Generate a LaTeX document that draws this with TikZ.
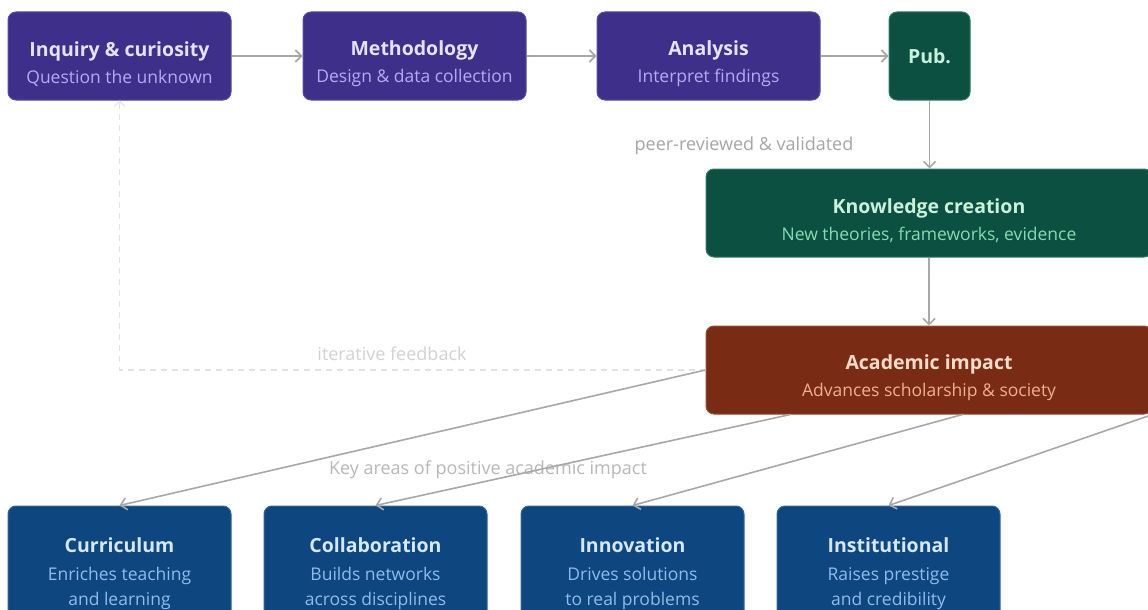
\documentclass[tikz,border=0pt]{standalone}
\usepackage{fontspec}
\setmainfont{Open Sans}
\usetikzlibrary{arrows.meta}

\definecolor{rsPurple}{HTML}{3E2F8A}
\definecolor{rsPurpleEdge}{HTML}{5A4BA6}
\definecolor{rsPurpleHead}{HTML}{E6E2FF}
\definecolor{rsPurpleSub}{HTML}{B6ABF2}
\definecolor{rsGreen}{HTML}{0B5040}
\definecolor{rsGreenEdge}{HTML}{2E7A62}
\definecolor{rsGreenHead}{HTML}{C9F1DC}
\definecolor{rsGreenSub}{HTML}{86DCB2}
\definecolor{rsBrown}{HTML}{792B14}
\definecolor{rsBrownEdge}{HTML}{9A4A30}
\definecolor{rsBrownHead}{HTML}{FBDCCB}
\definecolor{rsBrownSub}{HTML}{F0AE92}
\definecolor{rsBlue}{HTML}{0E4680}
\definecolor{rsBlueEdge}{HTML}{3566A0}
\definecolor{rsBlueHead}{HTML}{D4E8FF}
\definecolor{rsBlueSub}{HTML}{8EBDEB}
\definecolor{arrGrey}{HTML}{A8A8A8}
\definecolor{noteGrey}{HTML}{A6A6A6}
\definecolor{fbGrey}{HTML}{E2E2E2}

\newcommand{\headfont}{\fontsize{19.5}{25}\selectfont\bfseries}
\newcommand{\subfont}{\fontsize{17.5}{25}\selectfont}

\tikzset{
	stage/.style={rectangle, rounded corners=8pt, minimum width=223pt, minimum height=88pt,
		align=center, inner sep=0pt, line width=1pt, font=\fontsize{17.5}{25}\selectfont},
	purple/.style={stage, fill=rsPurple, draw=rsPurpleEdge},
	green/.style={stage, fill=rsGreen, draw=rsGreenEdge},
	brown/.style={stage, fill=rsBrown, draw=rsBrownEdge},
	blue/.style={stage, fill=rsBlue, draw=rsBlueEdge, minimum height=120pt},
	arr/.style={draw=arrGrey, line width=1.6pt, -{Straight Barb[length=6pt,width=12pt]}},
	fb/.style={draw=fbGrey, line width=1.2pt, dash pattern=on 6pt off 5pt,
		-{Straight Barb[length=5pt,width=10pt]}},
	note/.style={text=noteGrey, font=\fontsize{18}{22}\selectfont}
}

\begin{document}
\begin{tikzpicture}[x=1pt,y=-1pt]
	\useasboundingbox[fill=white] (0,0) rectangle (1148,610);

	% research stages
	\node[purple] (inq) at (119.5,56) {\rule{0pt}{30pt}{\headfont\color{rsPurpleHead}Inquiry \& curiosity}\\[2pt]{\subfont\color{rsPurpleSub}Question the unknown}};
	\node[purple] (meth) at (414.5,56) {\rule{0pt}{30pt}{\headfont\color{rsPurpleHead}Methodology}\\[2pt]{\subfont\color{rsPurpleSub}Design \& data collection}};
	\node[purple] (ana) at (708.5,56) {\rule{0pt}{30pt}{\headfont\color{rsPurpleHead}Analysis}\\[2pt]{\subfont\color{rsPurpleSub}Interpret findings}};
	\node[green, minimum width=81pt] (pub) at (929.5,56) {{\headfont\color{rsGreenHead}Pub.}};

	\node[green, minimum width=446pt] (know) at (929,213) {\rule{0pt}{30pt}{\headfont\color{rsGreenHead}Knowledge creation}\\[2pt]{\subfont\color{rsGreenSub}New theories, frameworks, evidence}};
	\node[brown, minimum width=446pt] (imp) at (929,370) {\rule{0pt}{30pt}{\headfont\color{rsBrownHead}Academic impact}\\[2pt]{\subfont\color{rsBrownSub}Advances scholarship \& society}};

	% impact areas
	\node[blue] (cur) at (119.5,566) {\rule{0pt}{31pt}{\headfont\color{rsBlueHead}Curriculum}\\[3pt]{\subfont\color{rsBlueSub}Enriches teaching}\\{\subfont\color{rsBlueSub}and learning}};
	\node[blue] (col) at (375.5,566) {\rule{0pt}{31pt}{\headfont\color{rsBlueHead}Collaboration}\\[3pt]{\subfont\color{rsBlueSub}Builds networks}\\{\subfont\color{rsBlueSub}across disciplines}};
	\node[blue] (inn) at (632.5,566) {\rule{0pt}{31pt}{\headfont\color{rsBlueHead}Innovation}\\[3pt]{\subfont\color{rsBlueSub}Drives solutions}\\{\subfont\color{rsBlueSub}to real problems}};
	\node[blue] (ins) at (888.5,566) {\rule{0pt}{31pt}{\headfont\color{rsBlueHead}Institutional}\\[3pt]{\subfont\color{rsBlueSub}Raises prestige}\\{\subfont\color{rsBlueSub}and credibility}};

	% labels
	\node[note] (peer) at (744,146) {peer-reviewed \& validated};
	\node[note, text=fbGrey!80!black!60] (iter) at (392,354) {iterative feedback};
	\node[note, text=noteGrey!80] (keys) at (488,470) {Key areas of positive academic impact};

	% connectors
	\draw[arr] (inq) -- (meth);
	\draw[arr] (meth) -- (ana);
	\draw[arr] (ana) -- (pub);
	\draw[arr] (pub.south) -- (pub.south |- know.north);
	\draw[arr] (know) -- (imp);
	\draw[fb] (imp.west) -| (inq.south);

	\draw[arr] (imp.west) -- (cur.north);
	\draw[arr] ([xshift=85pt]imp.south west) -- (col.north);
	\draw[arr] ([xshift=257pt]imp.south west) -- (inn.north);
	\draw[arr] (imp.south east) -- (ins.north);
\end{tikzpicture}
\end{document}
